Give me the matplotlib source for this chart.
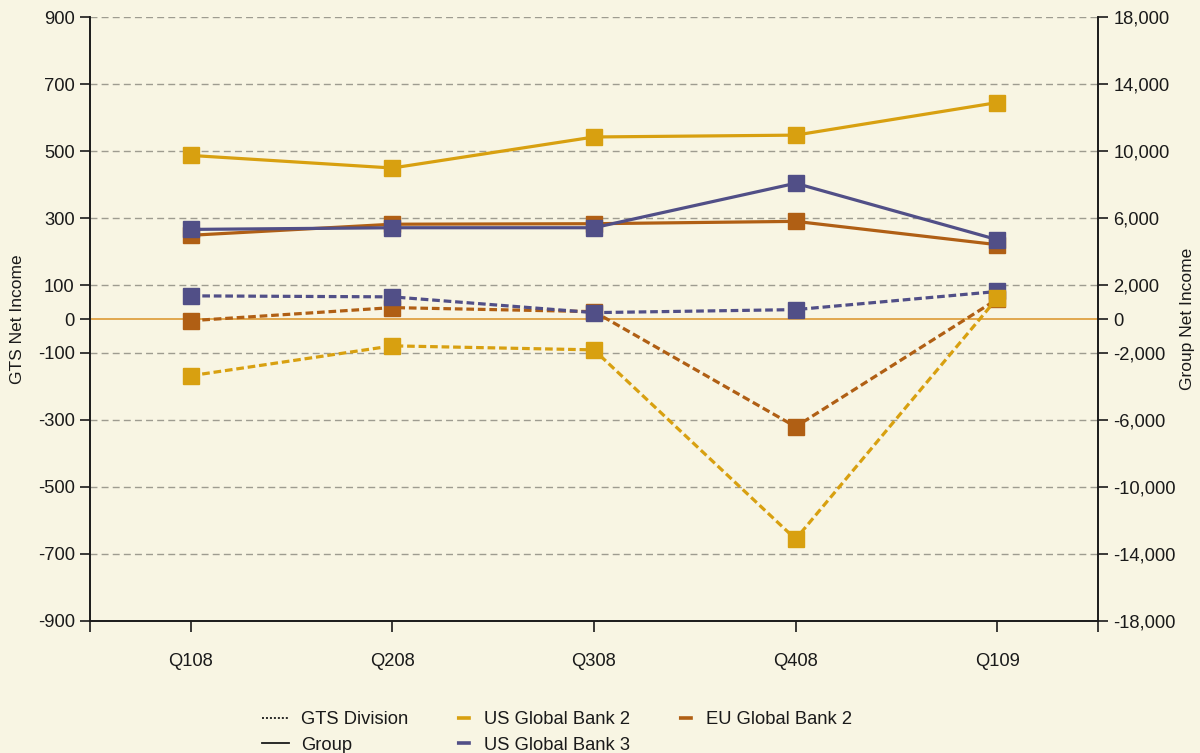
import matplotlib
matplotlib.use("Agg")
import matplotlib.pyplot as plt
from matplotlib.lines import Line2D

plt.rcParams['font.family'] = ['Liberation Sans', 'DejaVu Sans']

quarters = ["Q108", "Q208", "Q308", "Q408", "Q109"]

# GTS division net income (left axis)
gts_us2 = [-169, -80, -92, -656, 62]
gts_us3 = [69, 66, 19, 28, 82]
gts_eu2 = [-5, 34, 22, -321, 59]

# Group net income (right axis)
grp_us2 = [9750, 9000, 10850, 10960, 12900]
grp_us3 = [5340, 5440, 5440, 8090, 4730]
grp_eu2 = [4990, 5650, 5680, 5820, 4430]

left_ticks = [900, 700, 500, 300, 100, 0, -100, -300, -500, -700, -900]
right_ticks = [18000, 14000, 10000, 6000, 2000, 0, -2000, -6000, -10000, -14000, -18000]

bg = "#F8F5E3"
c_us2 = "#D8A010"
c_us3 = "#514F87"
c_eu2 = "#B05F14"
c_text = "#1A1A1A"
c_zero = "#DD9A35"
fs = 13.2

fig = plt.figure(figsize=(12, 7.53), dpi=100, facecolor=bg)
ax = fig.add_axes([0.075, 0.1753, 0.84, 0.8021])
ax.set_facecolor(bg)
ax2 = ax.twinx()

x = list(range(len(quarters)))

ax.set_xlim(-0.5, 4.5)
ax.set_ylim(-900, 900)
ax2.set_ylim(-18000, 18000)

# Gridlines and zero line
for v in left_ticks:
    if v in (0, -900):
        continue
    ax.axhline(v, color="#9E9C90", lw=1.0, dashes=(5, 3), zorder=1)
ax.axhline(0, color=c_zero, lw=1.2, zorder=1)

lw = 2.3
ms = 12
dash = (2.4, 1.2)
for vals, col in [(gts_eu2, c_eu2), (gts_us3, c_us3), (gts_us2, c_us2)]:
    ax.plot(x, vals, color=col, lw=lw, dashes=dash, marker="s", ms=ms,
            mec=col, mfc=col, zorder=3)
for vals, col in [(grp_eu2, c_eu2), (grp_us3, c_us3), (grp_us2, c_us2)]:
    ax2.plot(x, vals, color=col, lw=lw, marker="s", ms=ms,
             mec=col, mfc=col, zorder=3)

# Spines
for a in (ax, ax2):
    a.spines["top"].set_visible(False)
    for s in ("left", "right", "bottom"):
        a.spines[s].set_color(c_text)
        a.spines[s].set_linewidth(1.2)

ax.set_yticks(left_ticks)
ax.set_yticklabels([str(v) for v in left_ticks])
ax2.set_yticks(right_ticks)
ax2.set_yticklabels([f"{v:,}" for v in right_ticks])
ax.set_xticks(x)
ax.set_xticklabels(quarters)
ax.set_xticks([-0.5, 4.5], minor=True)

ax.tick_params(axis="y", length=7, width=1.2, color=c_text, labelsize=fs,
               labelcolor=c_text, pad=4)
ax2.tick_params(axis="y", length=7, width=1.2, color=c_text, labelsize=fs,
                labelcolor=c_text, pad=4)
ax.tick_params(axis="x", which="major", length=8, width=1.2, color=c_text,
               labelsize=fs, labelcolor=c_text, pad=15)
ax.tick_params(axis="x", which="minor", length=8, width=1.2, color=c_text)

ax.set_ylabel("GTS Net Income", fontsize=12.5, color=c_text, va="center")
ax2.set_ylabel("Group Net Income", fontsize=12.5, color=c_text, va="center")
ax.yaxis.set_label_coords(-0.072, 0.5)
ax2.yaxis.set_label_coords(1.089, 0.5)

# Short colour swatches sit at the right end of the handle area
swatch_lw = 2.6
swatch = (10 / swatch_lw, (10 / swatch_lw, 8.6 / swatch_lw))
handles = [
    Line2D([], [], color=c_text, lw=1.3, linestyle=(0, (1.1, 1.1))),
    Line2D([], [], color=c_text, lw=1.3),
    Line2D([], [], color=c_us2, lw=swatch_lw, linestyle=swatch),
    Line2D([], [], color=c_us3, lw=swatch_lw, linestyle=swatch),
    Line2D([], [], color=c_eu2, lw=swatch_lw, linestyle=swatch),
]
labels = ["GTS Division", "Group", "US Global Bank 2", "US Global Bank 3",
          "EU Global Bank 2"]
leg = fig.legend(handles, labels, ncol=3, loc="upper left",
                 bbox_to_anchor=(256 / 1200, 1 - 706 / 753), frameon=False,
                 fontsize=fs, handlelength=1.5, handletextpad=0.65,
                 columnspacing=2.0, labelspacing=0.45, borderaxespad=0,
                 borderpad=0.3)
for t in leg.get_texts():
    t.set_color(c_text)

fig.savefig("out.png", dpi=100, facecolor=bg)
